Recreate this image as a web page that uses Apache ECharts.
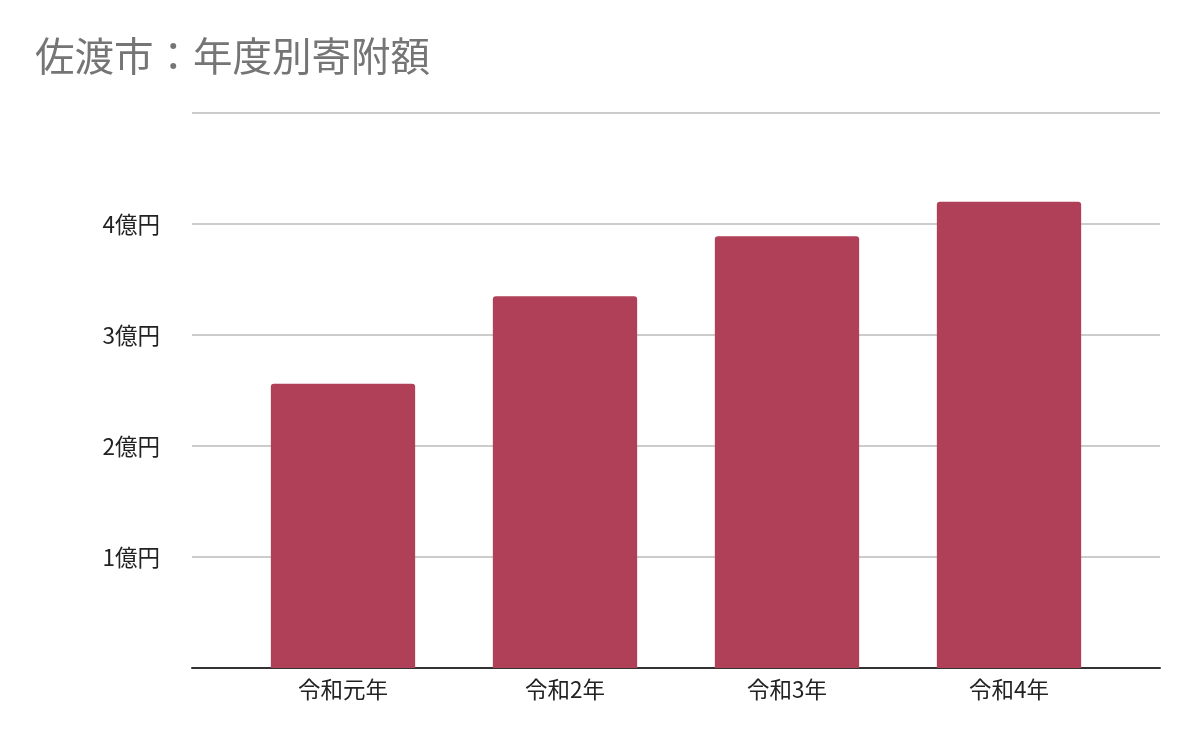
<!DOCTYPE html>
<html>
<head>
<meta charset="utf-8">
<script src="https://cdn.jsdelivr.net/npm/echarts@6/dist/echarts.min.js"></script>
<style>
  html, body { margin: 0; padding: 0; background: #fff; }
  #chart { width: 1194px; height: 738px; }
</style>
</head>
<body>
<div id="chart"></div>
<script>
// 年度別寄附額（単位：億円）
const years = ['令和元年', '令和2年', '令和3年', '令和4年']
const amounts = [2.56, 3.35, 3.89, 4.2]
const yMax = 5

const chart = echarts.init(document.getElementById('chart'))
const font = '"Noto Sans CJK JP", "Noto Sans", sans-serif'

chart.setOption({
  animation: false,
  title: {
    text: '佐渡市：年度別寄附額',
    left: 30,
    top: 31,
    textStyle: { color: '#757575', fontSize: 39.5, fontWeight: 'normal', fontFamily: font },
  },
  // 外側：目盛線と軸線、内側：棒（左右に余白あり）
  grid: [
    { left: 192, right: 34, top: 113, bottom: 70 },
    { left: 232, right: 74, top: 113, bottom: 70 },
  ],
  xAxis: [
    {
      gridIndex: 0,
      type: 'value',
      min: 0,
      max: 1,
      axisLine: { show: true, lineStyle: { color: '#333', width: 2 } },
      axisTick: { show: false },
      axisLabel: { show: false },
      splitLine: { show: false },
    },
    {
      gridIndex: 1,
      type: 'category',
      data: years,
      axisLine: { show: false },
      axisTick: { show: false },
      axisLabel: { color: '#222', fontSize: 22.5, margin: 10, fontFamily: font },
    },
  ],
  yAxis: [
    {
      gridIndex: 0,
      type: 'value',
      min: 0,
      max: yMax,
      interval: 1,
      axisLine: { show: false },
      axisTick: { show: false },
      splitLine: { lineStyle: { color: '#cccccc', width: 2 } },
      axisLabel: {
        color: '#222',
        fontSize: 22.5,
        margin: 32,
        fontFamily: font,
        formatter: (v) => (v === 0 || v === yMax ? '' : v + '億円'),
      },
    },
    {
      gridIndex: 1,
      type: 'value',
      min: 0,
      max: yMax,
      interval: 1,
      show: false,
    },
  ],
  series: [
    {
      type: 'bar',
      xAxisIndex: 1,
      yAxisIndex: 1,
      data: amounts,
      barWidth: '65%',
      itemStyle: { color: '#b04057', borderRadius: [3, 3, 0, 0] },
    },
  ],
})
</script>
</body>
</html>
